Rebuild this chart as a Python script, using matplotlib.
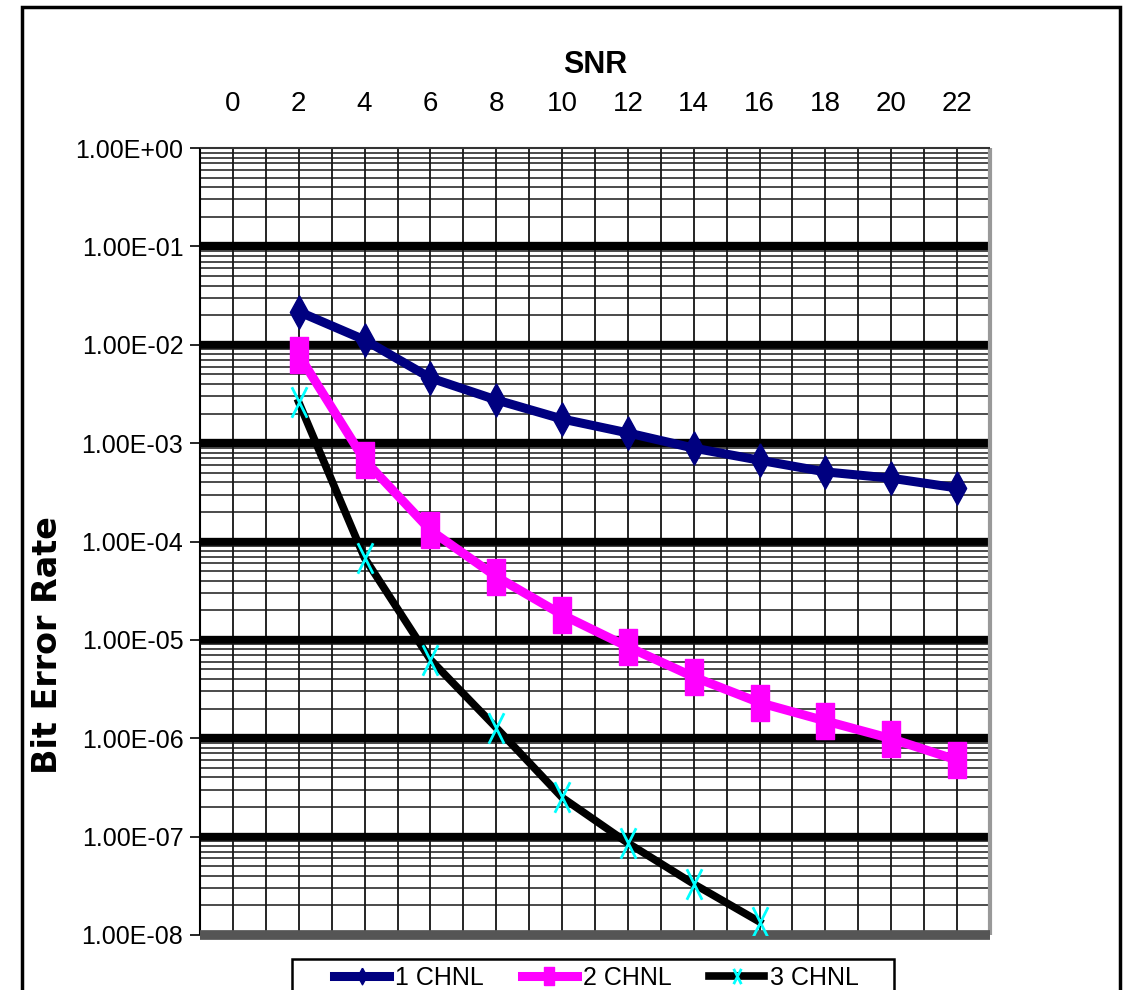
import matplotlib
matplotlib.use("Agg")
import matplotlib.pyplot as plt
from matplotlib.path import Path
from matplotlib.patches import Rectangle
from matplotlib.ticker import FixedLocator, MultipleLocator, LogLocator, FuncFormatter, NullFormatter

# values
snr = [2, 4, 6, 8, 10, 12, 14, 16, 18, 20, 22]
ber_1chnl = [2.17e-2, 1.12e-2, 4.6e-3, 2.75e-3, 1.76e-3, 1.27e-3, 8.9e-4, 6.7e-4, 5.1e-4, 4.4e-4, 3.5e-4]
ber_2chnl = [7.9e-3, 6.7e-4, 1.3e-4, 4.4e-5, 1.8e-5, 8.5e-6, 4.2e-6, 2.3e-6, 1.5e-6, 9.9e-7, 6.0e-7]
snr_3chnl = [2, 4, 6, 8, 10, 12, 14, 16]
ber_3chnl = [2.6e-3, 6.8e-5, 6.3e-6, 1.28e-6, 2.5e-7, 8.6e-8, 3.3e-8, 1.36e-8]

x_ticks = list(range(0, 23, 2))
decades = [1e-8, 1e-7, 1e-6, 1e-5, 1e-4, 1e-3, 1e-2, 1e-1, 1e0]
labels = ["1 CHNL", "2 CHNL", "3 CHNL"]

plt.rcParams["font.family"] = ["Liberation Sans", "DejaVu Sans"]

W, H = 1130, 990
fig = plt.figure(figsize=(W / 100, H / 100), dpi=100)
ax = fig.add_axes([200 / W, 1 - 935 / H, 790 / W, 787 / H])

# tall markers like the excel ones
diamond = [(0, 1), (0.55, 0), (0, -1), (-0.55, 0), (0, 1)]
rect = [(-0.5, -1), (0.5, -1), (0.5, 1), (-0.5, 1), (-0.5, -1)]
cross = Path([(-0.5, -1), (0.5, 1), (-0.5, 1), (0.5, -1)],
             [Path.MOVETO, Path.LINETO, Path.MOVETO, Path.LINETO])

ax.plot(snr, ber_1chnl, color="#000080", lw=6.5, marker=diamond, ms=24,
        label=labels[0], zorder=3)
ax.plot(snr, ber_2chnl, color="#FF00FF", lw=6.5, marker=rect, ms=26,
        label=labels[1], zorder=3)
ax.plot(snr_3chnl, ber_3chnl, color="black", lw=5.5, marker=cross, ms=22,
        mfc="none", mec="#00FFFF", mew=2, label=labels[2], zorder=3)

ax.set_yscale("log")
ax.set_ylim(1e-8, 1)
ax.set_xlim(-1, 23)

ax.xaxis.set_major_locator(FixedLocator(x_ticks))
ax.xaxis.set_minor_locator(MultipleLocator(1))
ax.yaxis.set_major_locator(FixedLocator(decades))
ax.yaxis.set_major_formatter(FuncFormatter(lambda v, p: "{:.2E}".format(v)))
ax.yaxis.set_minor_locator(LogLocator(base=10, subs=range(2, 10), numticks=100))
ax.yaxis.set_minor_formatter(NullFormatter())

ax.xaxis.tick_top()
ax.xaxis.set_label_position("top")
ax.tick_params(axis="x", which="both", length=0, pad=22, labelsize=20)
ax.tick_params(axis="y", which="major", length=7, width=1.2, pad=5, labelsize=18)
ax.tick_params(axis="y", which="minor", length=0)

ax.set_xlabel("SNR", fontsize=22, fontweight="bold", labelpad=13)
ax.set_ylabel("Bit Error Rate", family="DejaVu Sans", fontweight="bold", fontsize=24)
ax.yaxis.set_label_coords(-0.172, 0.368)

ax.grid(True, which="both", axis="x", color="black", lw=1.2)
ax.grid(True, which="minor", axis="y", color="#1a1a1a", lw=1.1)
ax.grid(True, which="major", axis="y", color="black", lw=6)
yt = ax.yaxis.get_major_ticks()
yt[0].gridline.set_visible(False)
yt[-1].gridline.set_visible(False)

ax.spines["left"].set_color("black")
ax.spines["left"].set_linewidth(1.5)
ax.spines["top"].set_color("#333333")
ax.spines["top"].set_linewidth(1.5)
ax.spines["right"].set_color("#999999")
ax.spines["right"].set_linewidth(3)
ax.spines["bottom"].set_color("#555555")
ax.spines["bottom"].set_linewidth(7)
for s in ax.spines.values():
    s.set_capstyle("butt")

# legend box + entries
fig.add_artist(Rectangle((292 / W, -0.02), 602 / W, 0.02 + 1 - 959 / H,
                         transform=fig.transFigure, fill=False, ec="black", lw=1.8))
ax.legend(loc="center", bbox_to_anchor=(0.528, 1 - 978 / H), bbox_transform=fig.transFigure,
          ncol=3, frameon=False, fontsize=18, handlelength=2.2, handletextpad=0.25,
          columnspacing=1.5, markerscale=0.5, borderpad=0.1)

# outer chart border
fig.add_artist(Rectangle((22 / W, -0.02), 1098 / W, 0.02 + 1 - 7 / H,
                         transform=fig.transFigure, fill=False, ec="black", lw=2.5))

fig.savefig("out.png", dpi=100)
